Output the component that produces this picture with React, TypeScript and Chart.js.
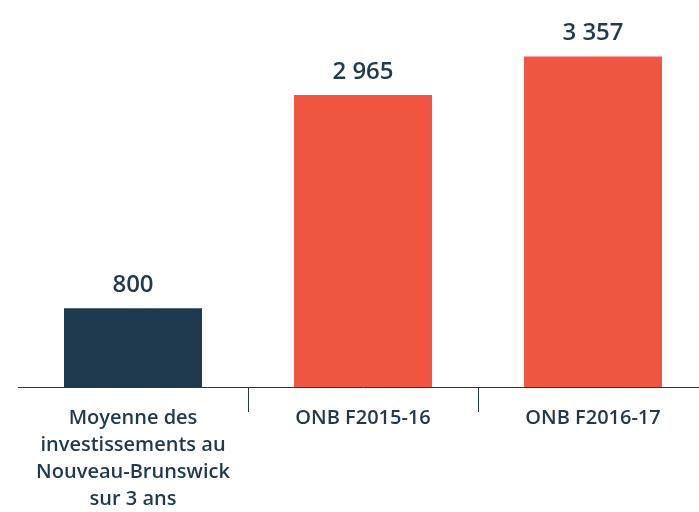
import React, { useEffect, useRef } from 'react';
import { Chart, registerables } from 'chart.js';

Chart.register(...registerables);

const categories: (string | string[])[] = [
  ['Moyenne des', 'investissements au', 'Nouveau-Brunswick', 'sur 3 ans'],
  'ONB F2015-16',
  'ONB F2016-17',
];
const values = [800, 2965, 3357];
const barColors = ['#1f3a4e', '#f05641', '#f05641'];
const yMax = 3900;

const NAVY = '#1f3a4e';
const FONT = '"Open Sans", "Noto Sans", sans-serif';

function fmt(v: number): string {
  return String(v).replace(/\B(?=(\d{3})+(?!\d))/g, ' ');
}

export default function App() {
  const ref = useRef<HTMLCanvasElement>(null);

  useEffect(() => {
    const valueLabels = {
      id: 'valueLabels',
      afterDatasetsDraw(chart: any) {
        const ctx = chart.ctx;
        const meta = chart.getDatasetMeta(0);
        ctx.save();
        ctx.fillStyle = NAVY;
        ctx.font = `600 24px ${FONT}`;
        ctx.textAlign = 'center';
        ctx.textBaseline = 'alphabetic';
        meta.data.forEach((el: any, i: number) => {
          ctx.fillText(fmt(values[i]), el.x, el.y - 16);
        });
        ctx.restore();
      },
    };

    const chart = new Chart(ref.current as HTMLCanvasElement, {
      type: 'bar',
      data: {
        labels: categories,
        datasets: [
          {
            data: values,
            backgroundColor: barColors,
            barPercentage: 0.6,
            categoryPercentage: 1,
          },
        ],
      },
      options: {
        responsive: false,
        animation: false,
        layout: { padding: { left: 18, right: 12, top: 3, bottom: 8 } },
        plugins: {
          legend: { display: false },
          tooltip: { enabled: false },
        },
        scales: {
          x: {
            offset: true,
            grid: {
              offset: true,
              drawOnChartArea: false,
              tickLength: 25,
              lineWidth: 1,
              color: (c: any) =>
                c.type !== 'tick' || c.index === 0 ? 'rgba(0,0,0,0)' : NAVY,
            },
            border: { color: NAVY, width: 1 },
            ticks: {
              color: NAVY,
              font: { family: FONT, size: 20, weight: '600', lineHeight: 1.35 },
              padding: -7,
              maxRotation: 0,
              autoSkip: false,
            },
          },
          y: { display: false, min: 0, max: yMax },
        },
      },
      plugins: [valueLabels],
    });
    return () => chart.destroy();
  }, []);

  return (
    <div
      style={{
        position: 'fixed',
        left: 0,
        top: 0,
        width: 699,
        height: 512,
        overflow: 'hidden',
        background: '#ffffff',
      }}
    >
      <canvas
        ref={ref}
        width={720}
        height={514}
        style={{ position: 'absolute', left: 0, top: 0 }}
      />
    </div>
  );
}
